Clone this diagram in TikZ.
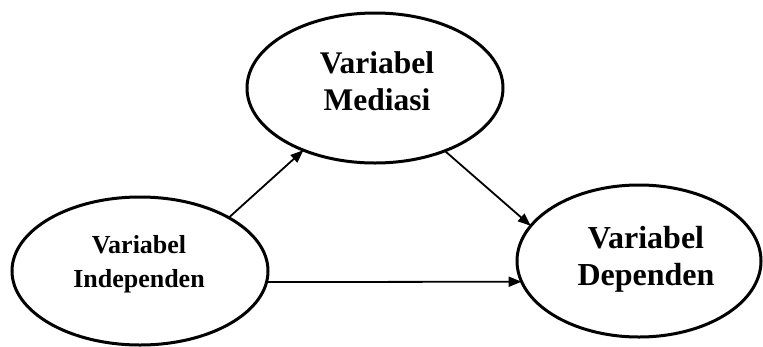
\documentclass[tikz,border=0pt]{standalone}
\usepackage{fontspec}
\setmainfont{Liberation Serif}
\usetikzlibrary{shapes.geometric,arrows.meta}
\begin{document}
\begin{tikzpicture}[x=1pt,y=-1pt,
  oval/.style={draw,ellipse,line width=3pt,inner sep=0pt,outer sep=0pt},
  lbl/.style={align=center,font=\bfseries,inner sep=0pt},
  conn/.style={line width=1.8pt,-{Triangle[length=13pt,width=10pt]}}]
\useasboundingbox (0,0) rectangle (763,346);
\node[oval,minimum width=256pt,minimum height=148pt] (ind) at (140,271) {};
\node[oval,minimum width=256pt,minimum height=150pt] (med) at (375,88) {};
\node[oval,minimum width=244pt,minimum height=152pt] (dep) at (639,261) {};
\node[lbl,font=\bfseries\fontsize{26}{34}\selectfont] (indt) at (139,264) {Variabel\\Independen};
\node[lbl,font=\bfseries\fontsize{31.5}{37}\selectfont] (medt) at (377,81) {Variabel\\Mediasi};
\node[lbl,font=\bfseries\fontsize{32}{37}\selectfont] (dept) at (646,259) {Variabel\\Dependen};
\draw[conn] (ind.31) -- (med.221);
\draw[conn] (med.318) -- (dep.162);
\draw[conn] (ind.-5) -- (dep.190);
\end{tikzpicture}
\end{document}
